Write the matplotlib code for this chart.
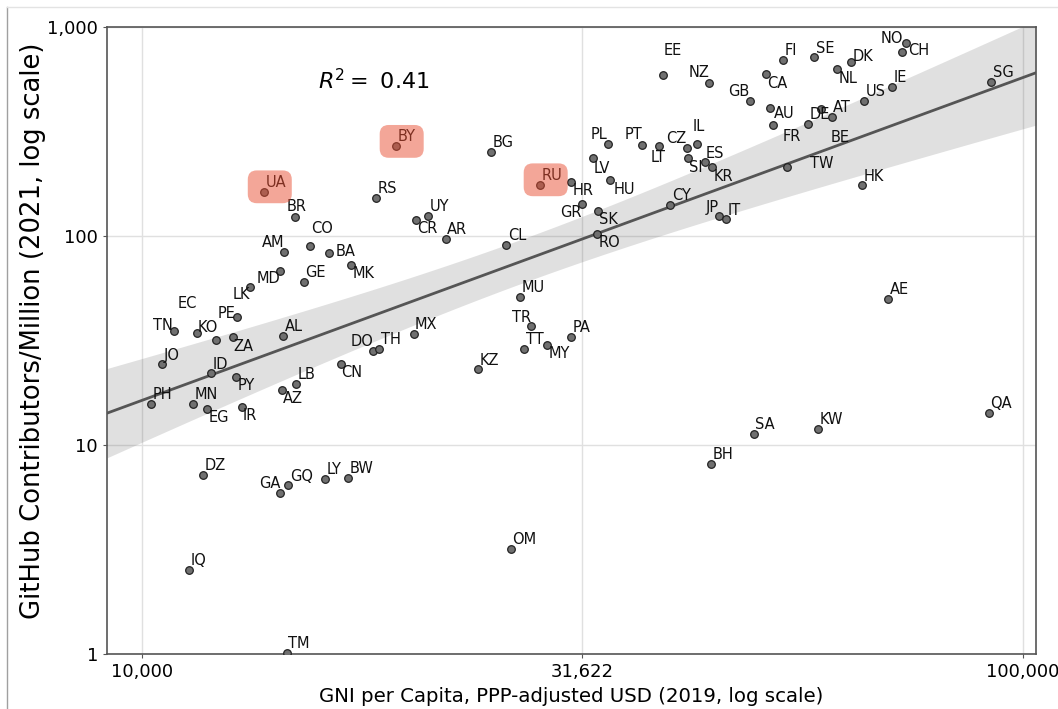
import matplotlib.pyplot as plt
import matplotlib.transforms as mtransforms
import numpy as np
from matplotlib.lines import Line2D
from matplotlib.patches import FancyBboxPatch

# country codes, GNI per capita (PPP USD, 2019), GitHub contributors per million (2021)
codes = [
    "UA", "BY", "RS", "BR", "CO", "CR", "UY", "AM", "BA", "MK",
    "MD", "GE", "LK", "PE", "EC", "TN", "KO", "ZA", "AL", "JO",
    "ID", "PY", "LB", "AZ", "CN", "DO", "TH", "MX", "PH", "MN",
    "EG", "IR", "DZ", "GA", "GQ", "LY", "BW", "IQ", "TM", "OM",
    "BG", "RU", "HR", "GR", "AR", "CL", "PL", "LV", "HU", "SK",
    "RO", "PT", "LT", "CZ", "IL", "SI", "ES", "KR", "CY", "JP",
    "IT", "EE", "NZ", "GB", "CA", "FI", "SE", "DK", "NL", "NO",
    "CH", "IE", "US", "AT", "DE", "BE", "AU", "FR", "TW", "HK",
    "SG", "AE", "KW", "QA", "SA", "BH", "MU", "TR", "PA", "TT",
    "MY", "KZ",
]
gni = [
    13750, 19410, 18450, 14910, 15530, 20470, 21130, 14510, 16290, 17280,
    14340, 15270, 13280, 12810, 12140, 10860, 11550, 12690, 14460, 10530,
    11990, 12800, 14950, 14410, 16810, 18310, 18600, 20340, 10240, 11440,
    11840, 12980, 11740, 14360, 14660, 16150, 17150, 11320, 14600, 26210,
    24900, 28280, 30720, 31560, 22120, 25910, 33780, 32540, 34010, 32960,
    32880, 36980, 38600, 41520, 42660, 41700, 43530, 44360, 39780, 45150,
    46050, 39030, 44050, 48940, 51080, 53360, 57980, 63850, 61460, 73660,
    72830, 71070, 66060, 60660, 57070, 59000, 51610, 51980, 53960, 65660,
    92040, 70330, 58490, 91490, 49460, 44210, 26840, 27670, 30690, 27160,
    28830, 24090,
]
contributors = [
    162.9, 268.7, 151.5, 123.3, 89.9, 118.9, 124.6, 84.1, 83.2, 72.7,
    68.2, 60.4, 56.8, 41.1, 31.8, 35.1, 34.5, 32.9, 33.2, 24.3,
    22.0, 21.2, 19.6, 18.3, 24.3, 28.2, 28.7, 34.0, 15.7, 15.7,
    14.8, 15.2, 7.21, 5.89, 6.41, 6.90, 6.95, 2.53, 1.01, 3.19,
    252.2, 176.0, 181.9, 142.3, 96.7, 90.3, 274.6, 235.3, 186.0, 131.3,
    102.6, 273.4, 268.7, 263.7, 275.6, 236.9, 226.7, 213.2, 140.7, 125.1,
    120.2, 587.4, 541.4, 442.5, 595.9, 695.2, 716.2, 677.8, 627.6, 841.2,
    761.7, 518.1, 442.5, 371.0, 343.5, 403.8, 408.3, 338.6, 213.2, 174.8,
    545.6, 49.8, 11.9, 14.3, 11.3, 8.11, 50.9, 37.0, 32.9, 28.7,
    30.2, 23.0,
]
highlight = ["UA", "BY", "RU"]

# label offsets in pixels (left, baseline) relative to the dot, default up-right
default_offset = (1.5, 4.8)
label_offsets = {
    "BR": (-8, 6.3), "CO": (0.7, 12.4), "CR": (1.3, -13), "AM": (-22.6, 5),
    "BA": (7.3, -3.3), "MK": (1.4, -13.3), "MD": (-23.3, -12.6), "LK": (-18, -11.7),
    "PE": (-18.7, -1), "EC": (-39, 31.7), "TN": (-20.4, 1), "KO": (0.7, 1),
    "ZA": (0.3, -14), "PY": (1.4, -13), "AZ": (1, -13), "CN": (0.3, -13),
    "DO": (-22.6, 5), "EG": (1.6, -13), "IR": (1, -13), "GA": (-21.3, 4.7),
    "HR": (1.4, -13.3), "GR": (-21.7, -13.3), "PL": (-16.7, 5), "LV": (0, -15),
    "HU": (3, -14.3), "SK": (1, -12.7), "RO": (1.4, -13), "PT": (-17.3, 5.4),
    "LT": (-8, -15.4), "CZ": (-20.7, 4.7), "IL": (-4.7, 13.3), "SI": (1, -14),
    "ES": (1.3, 3.4), "KR": (1.3, -13.4), "JP": (-13.4, 4), "EE": (0.3, 20.3),
    "NZ": (-21, 5.4), "GB": (-21.4, 5), "CA": (1.3, -14.3), "DK": (1.4, 1.6),
    "NL": (1.6, -14), "NO": (-25.3, -0.6), "CH": (6.6, -3.3), "BE": (9.7, -32.4),
    "AU": (4, -10), "FR": (10, -15.4), "TW": (23, -0.4), "TR": (-19.6, 4.6),
    "MY": (1.3, -13.6),
}

lx = np.log10(np.array(gni, dtype=float))
ly = np.log10(np.array(contributors, dtype=float))

fig = plt.figure(figsize=(10.58, 7.09), dpi=100)
ax = fig.add_axes([0.1011, 0.0776, 0.8781, 0.8843])

xlim = (3.9603, 5.0148)
ylim = (0, 3)

# linear fit in log-log space with 95% confidence band
slope, intercept = np.polyfit(lx, ly, 1)
n = len(lx)
resid = ly - (intercept + slope * lx)
s_err = np.sqrt(np.sum(resid ** 2) / (n - 2))
sxx = np.sum((lx - lx.mean()) ** 2)
xs = np.linspace(xlim[0], xlim[1], 200)
fit = intercept + slope * xs
half = 1.985 * s_err * np.sqrt(1 / n + (xs - lx.mean()) ** 2 / sxx)
r2 = np.corrcoef(lx, ly)[0, 1] ** 2

ax.fill_between(xs, fit - half, fit + half, color="#555555", alpha=0.18, linewidth=0, zorder=1)
ax.plot(xs, fit, color="#555555", linewidth=2.0, zorder=2)
ax.scatter(lx, ly, s=30, facecolor="#707070", edgecolor="#222222", linewidth=0.9, zorder=3)

for code, x, y in zip(codes, lx, ly):
    dx, dy = label_offsets.get(code, default_offset)
    ax.annotate(code, (x, y), xytext=(dx, dy), textcoords="offset pixels",
                ha="left", va="baseline", fontsize=10.5, color="#111111", zorder=4)

# red rounded boxes laid over highlighted countries
for code in highlight:
    i = codes.index(code)
    trans = mtransforms.Affine2D() + mtransforms.ScaledTranslation(lx[i], ly[i], ax.transData)
    box = FancyBboxPatch((-16, -11.5), 44, 32.8, boxstyle="round,pad=0,rounding_size=9",
                         facecolor="#E94E32", edgecolor="none", alpha=0.5,
                         transform=trans, zorder=5)
    ax.add_patch(box)

ax.text(0.227, 0.901, f"$R^2 =$ {r2:.2f}", transform=ax.transAxes,
        fontsize=16, va="baseline", ha="left")

xticks = [4, 4.5, 5]
yticks = [0, 1, 2, 3]
ax.set_xticks(xticks)
ax.set_xticklabels([f"{int(10 ** t):,}" for t in xticks])
ax.set_yticks(yticks)
ax.set_yticklabels([f"{int(round(10 ** t)):,}" for t in yticks])
ax.set_xlim(*xlim)
ax.set_ylim(*ylim)
ax.tick_params(labelsize=13, length=3, color="#555555")
ax.grid(color="#e0e0e0", linewidth=1, zorder=0)
ax.set_axisbelow(True)
for sp in ax.spines.values():
    sp.set_color("#555555")
    sp.set_linewidth(1.2)

ax.set_xlabel("GNI per Capita, PPP-adjusted USD (2019, log scale)", fontsize=14.2, labelpad=4)
ax.set_ylabel("GitHub Contributors/Million (2021, log scale)", fontsize=18.6)
ax.yaxis.set_label_coords(-0.066, 0.516)

# thin page border seen at top/left of the original
fig.add_artist(Line2D([0.0066, 0.0066], [0, 0.99], transform=fig.transFigure, color="#a0a0a0", linewidth=1))
fig.add_artist(Line2D([0.0066, 1], [0.99, 0.99], transform=fig.transFigure, color="#e3e3e3", linewidth=1))

fig.savefig("out.png", dpi=100)
